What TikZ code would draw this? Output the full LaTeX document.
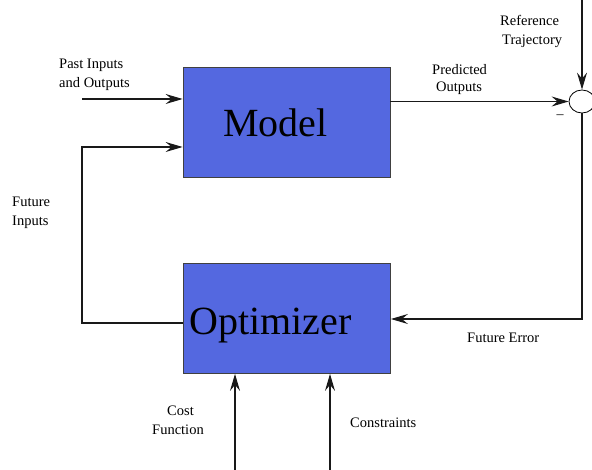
\documentclass[tikz,border=0pt]{standalone}
\usepackage{fontspec}
\setmainfont{Liberation Serif}
\usetikzlibrary{arrows.meta,shapes.geometric}
\definecolor{boxblue}{RGB}{84,104,224}
\begin{document}
\begin{tikzpicture}[x=1pt,y=-1pt,
  blk/.style={draw=black!75,line width=0.8pt,fill=boxblue,minimum width=207pt,minimum height=110pt,inner sep=0pt},
  big/.style={font=\fontsize{40}{40}\selectfont,anchor=base west,inner sep=0pt},
  lbl/.style={font=\fontsize{14.5}{18}\selectfont,inner sep=0pt,anchor=base west},
  conn/.style={line width=1.1pt,draw=black!90},
  arr/.style={conn,-{Stealth[length=17pt,width=10pt,inset=6pt]}}]
\useasboundingbox (0,0) rectangle (592,470);
% blocks
\node[blk] (model) at (286.5,122) {};
\node[blk] (opt) at (287,318.5) {};
\node[big] (modeltxt) at (223,137) {Model};
\node[big] (opttxt) at (189,335) {Optimizer};
\node[draw,ellipse,minimum width=26pt,minimum height=23pt,inner sep=0pt,line width=0.8pt] (sum) at (582,101.5) {};
% coordinates
\coordinate (pastin) at (82,99);
\coordinate (fbtop) at (82,147);
\coordinate (fbbot) at (82,323);
\coordinate (reftop) at (582,0);
\coordinate (errcorner) at (582,319);
\coordinate (costbot) at (235,470);
\coordinate (consbot) at (330,470);
% connectors
\draw[arr] (pastin) -- (pastin -| model.west);
\draw[arr] (opt.west |- fbbot) -- (fbbot) -- (fbtop) -- (model.west |- fbtop);
\draw[arr] (model.east |- sum) -- (sum.west);
\draw[arr] (reftop) -- (sum.north);
\draw[arr] (sum.south) -- (errcorner) -- (opt.east |- errcorner);
\draw[arr] (costbot) -- (costbot |- opt.south);
\draw[arr] (consbot) -- (consbot |- opt.south);
% labels
\node[lbl] (l1) at (59,69) {Past Inputs};
\node[lbl] (l2) at (59,88) {and Outputs};
\node[lbl] (l3) at (12,207) {Future};
\node[lbl] (l4) at (12,226) {Inputs};
\node[lbl] (l5) at (432,75) {Predicted};
\node[lbl] (l6) at (436,92) {Outputs};
\node[lbl] (l7) at (500,26) {Reference};
\node[lbl] (l8) at (502,45) {Trajectory};
\node[lbl] (l9) at (467,343) {Future Error};
\node[lbl] (l10) at (167,415) {Cost};
\node[lbl] (l11) at (152,434) {Function};
\node[lbl] (l12) at (350,428) {Constraints};
\node[font=\fontsize{14}{14}\selectfont,inner sep=0pt] (minus) at (560,117) {–};
\end{tikzpicture}
\end{document}
